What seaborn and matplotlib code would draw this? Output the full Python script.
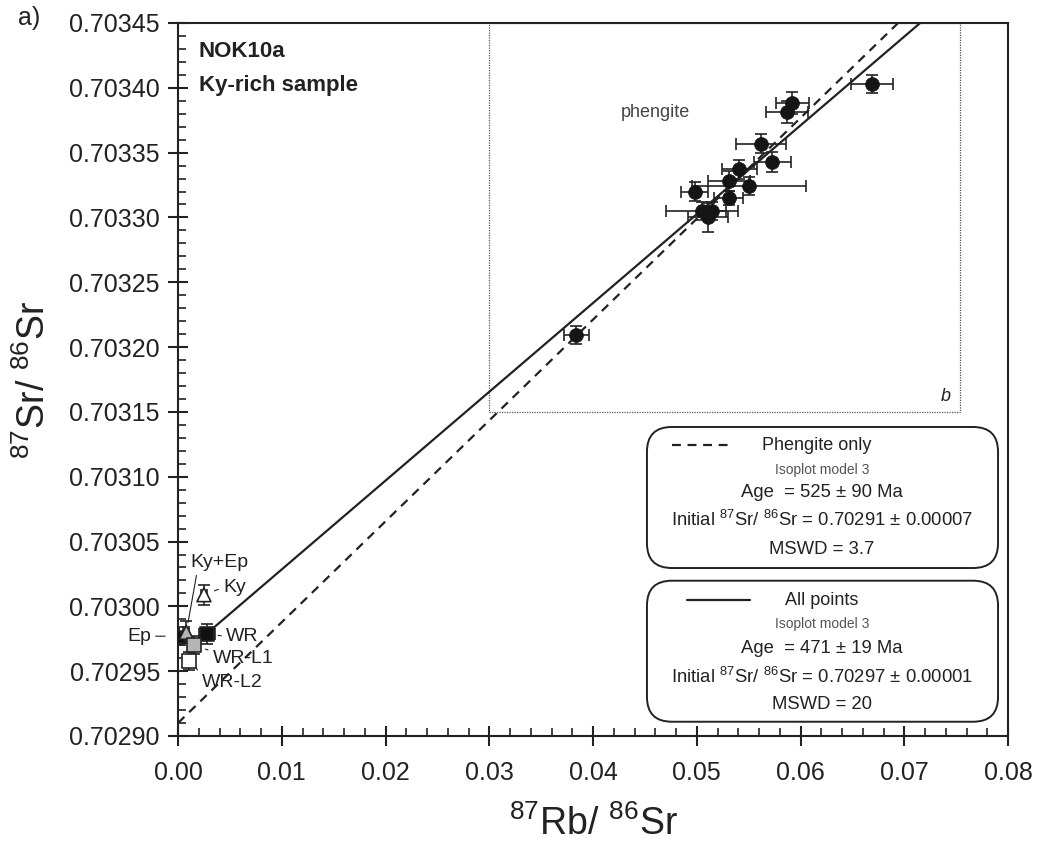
import numpy as np
import pandas as pd
import seaborn as sns
import matplotlib.pyplot as plt
from matplotlib.patches import FancyBboxPatch, Rectangle
from matplotlib.ticker import MultipleLocator, FormatStrFormatter

#### Data ####
phe_x = [0.0669, 0.0592, 0.0587, 0.0562, 0.0573, 0.0541, 0.0531, 0.0550,
         0.0498, 0.0531, 0.0505, 0.0515, 0.0511, 0.0384]
phe_y = [0.703403, 0.703388, 0.703381, 0.703357, 0.703343, 0.703337, 0.703328,
         0.703324, 0.703320, 0.703315, 0.703305, 0.703305, 0.703300, 0.703209]
phe_xerr = [0.0020, 0.0016, 0.0020, 0.0024, 0.0018, 0.0017, 0.0020, 0.0055,
            0.0013, 0.0014, 0.0035, 0.0013, 0.0019, 0.0012]
phe_yerr = [7e-6, 8.5e-6, 8.5e-6, 7e-6, 7.7e-6, 7.7e-6, 7.7e-6, 7e-6,
            7e-6, 5.4e-6, 7e-6, 7e-6, 1.15e-5, 7e-6]

low_labels = ['Ep', 'Ky+Ep', 'Ky', 'WR', 'WR-L1', 'WR-L2']
low_x = [0.0001, 0.0008, 0.0025, 0.0028, 0.0015, 0.0011]
low_y = [0.702977, 0.702980, 0.703009, 0.702979, 0.702970, 0.702958]
low_xerr = [0.0003, 0.0003, 0.0003, 0.0008, 0.0003, 0.0003]
low_yerr = [7e-6, 8.5e-6, 7.7e-6, 7.7e-6, 7e-6, 7e-6]

# isochron lines (intercept, slope, x start)
phe_fit = (0.70291, 0.00778, 0.0)
all_fit = (0.70296, 0.00685, 0.0028)

phe_stats = ['Isoplot model 3', 'Age  = 525 ± 90 Ma',
             'Initial $^{87}$Sr/ $^{86}$Sr = 0.70291 ± 0.00007', 'MSWD = 3.7']
all_stats = ['Isoplot model 3', 'Age  = 471 ± 19 Ma',
             'Initial $^{87}$Sr/ $^{86}$Sr = 0.70297 ± 0.00001', 'MSWD = 20']

#### Style ####
sns.set_style('ticks')
plt.rcParams['font.family'] = ['Liberation Sans', 'DejaVu Sans']
plt.rcParams['mathtext.fontset'] = 'custom'
plt.rcParams['mathtext.rm'] = 'Liberation Sans'
plt.rcParams['mathtext.default'] = 'regular'
ink = '#222222'

fig = plt.figure(figsize=(10.4, 8.55), dpi=100)
ax = fig.add_axes([178 / 1040, 119 / 855, 830 / 1040, 713 / 855])

# lines
x_end = 0.08
for (b0, m, xs), ls in [(phe_fit, (0, (4, 3))), (all_fit, '-')]:
    xx = np.array([xs, x_end])
    sns.lineplot(x=xx, y=b0 + m * xx, ax=ax, color=ink, lw=1.6,
                 linestyle=ls, zorder=2, legend=False)

# phengite box
ax.add_patch(Rectangle((0.03, 0.70315), 0.0754 - 0.03, 0.70345 - 0.70315,
                       fill=False, ls=(0, (1, 1)), lw=0.9, ec='#555555', zorder=1))
ax.text(0.0740, 0.703162, 'b', style='italic', fontsize=13, color=ink,
        ha='center', va='center')
ax.text(0.0460, 0.703381, 'phengite', fontsize=13, color='#444444',
        ha='center', va='center')

# error bars + points
ax.errorbar(phe_x, phe_y, xerr=phe_xerr, yerr=phe_yerr, fmt='none',
            ecolor=ink, elinewidth=1.2, capsize=4, capthick=1.2, zorder=3)
phe = pd.DataFrame({'x': phe_x, 'y': phe_y})
sns.scatterplot(data=phe, x='x', y='y', ax=ax, color='#151515', s=100,
                edgecolor='#151515', linewidth=0.5, zorder=4, legend=False)

ax.errorbar(low_x, low_y, xerr=low_xerr, yerr=low_yerr, fmt='none',
            ecolor=ink, elinewidth=1.2, capsize=4, capthick=1.2, zorder=3)
low = pd.DataFrame({'x': low_x, 'y': low_y, 'sample': low_labels})
fills = {'Ep': '#111111', 'Ky+Ep': '#b5b5b5', 'Ky': 'white',
         'WR': '#111111', 'WR-L1': '#b5b5b5', 'WR-L2': 'white'}
marks = {'Ep': '^', 'Ky+Ep': '^', 'Ky': '^', 'WR': 's', 'WR-L1': 's', 'WR-L2': 's'}
sns.scatterplot(data=low, x='x', y='y', hue='sample', style='sample',
                palette=fills, markers=marks, s=100, edgecolor=ink,
                linewidth=1.2, ax=ax, zorder=5, legend=False)

# sample labels with leader lines
label_pos = {'Ep': (-28, 0, 'right', (1, 0.5), 10),
             'Ky+Ep': (4, 70, 'left', (0.12, 0.0), 7),
             'Ky': (19, 7, 'left', (0, 0.5), 8),
             'WR': (19, -3, 'left', (0, 0.5), 8),
             'WR-L1': (19, -13, 'left', (0, 0.9), 9),
             'WR-L2': (12, -22, 'left', (0, 1.0), 7)}
for lab, px, py in zip(low_labels, low_x, low_y):
    dx, dy, ha, rp, sh = label_pos[lab]
    ax.annotate(lab, xy=(px, py), xytext=(dx, dy), textcoords='offset pixels',
                ha=ha, va='center', fontsize=14, color=ink, zorder=6,
                arrowprops=dict(arrowstyle='-', lw=0.8, color=ink,
                                relpos=rp, shrinkA=1, shrinkB=sh))

# stats boxes
aspect = 830 / 713
for y0, y1 in [(0.2356, 0.4334), (0.0200, 0.2178)]:
    ax.add_patch(FancyBboxPatch((0.565, y0), 0.988 - 0.565, y1 - y0,
                                boxstyle='round,pad=0,rounding_size=0.03',
                                mutation_aspect=aspect, transform=ax.transAxes,
                                fc='white', ec=ink, lw=1.4, zorder=6))

ax.plot([0.595, 0.667], [0.408, 0.408], transform=ax.transAxes, color=ink,
        lw=1.6, ls=(0, (4, 3)), zorder=7)
ax.text(0.770, 0.408, 'Phengite only', transform=ax.transAxes, fontsize=13,
        color=ink, ha='center', va='center', zorder=7)
ax.plot([0.613, 0.689], [0.1907, 0.1907], transform=ax.transAxes, color=ink,
        lw=1.6, zorder=7)
ax.text(0.776, 0.1907, 'All points', transform=ax.transAxes, fontsize=13,
        color=ink, ha='center', va='center', zorder=7)

for stats, ys in [(phe_stats, [0.373, 0.341, 0.303, 0.261]),
                  (all_stats, [0.157, 0.123, 0.083, 0.0435])]:
    for i, (s, yy) in enumerate(zip(stats, ys)):
        ax.text(0.776, yy, s, transform=ax.transAxes,
                fontsize=10 if i == 0 else 13.3,
                color='#555555' if i == 0 else ink,
                ha='center', va='center', zorder=7)

# title texts
ax.text(0.025, 0.960, 'NOK10a', transform=ax.transAxes, fontsize=16,
        fontweight='bold', color=ink, va='center')
ax.text(0.025, 0.912, 'Ky-rich sample', transform=ax.transAxes, fontsize=16,
        fontweight='bold', color=ink, va='center')
fig.text(18 / 1040, 1 - 18 / 855, 'a)', fontsize=18, color=ink, va='center')

# axes
ax.set_xlim(0, 0.08)
ax.set_ylim(0.70290, 0.70345)
ax.xaxis.set_major_locator(MultipleLocator(0.01))
ax.xaxis.set_minor_locator(MultipleLocator(0.002))
ax.yaxis.set_major_locator(MultipleLocator(0.00005))
ax.yaxis.set_minor_locator(MultipleLocator(0.00001))
ax.xaxis.set_major_formatter(FormatStrFormatter('%.2f'))
ax.yaxis.set_major_formatter(FormatStrFormatter('%.5f'))
ax.tick_params(which='major', direction='inout', length=14, width=1.5,
               labelsize=18, labelcolor=ink, color=ink, pad=6)
ax.tick_params(axis='x', which='major', pad=11)
ax.tick_params(which='minor', direction='in', length=6, width=1.2, color=ink)
ax.tick_params(top=False, right=False, which='both')
for sp in ax.spines.values():
    sp.set_linewidth(1.5)
    sp.set_color(ink)

ax.set_xlabel('$^{87}$Rb/ $^{86}$Sr', fontsize=27, color=ink, labelpad=15)
ax.set_ylabel('$^{87}$Sr/ $^{86}$Sr', fontsize=27, color=ink, labelpad=12)

fig.savefig('out.png', dpi=100)
